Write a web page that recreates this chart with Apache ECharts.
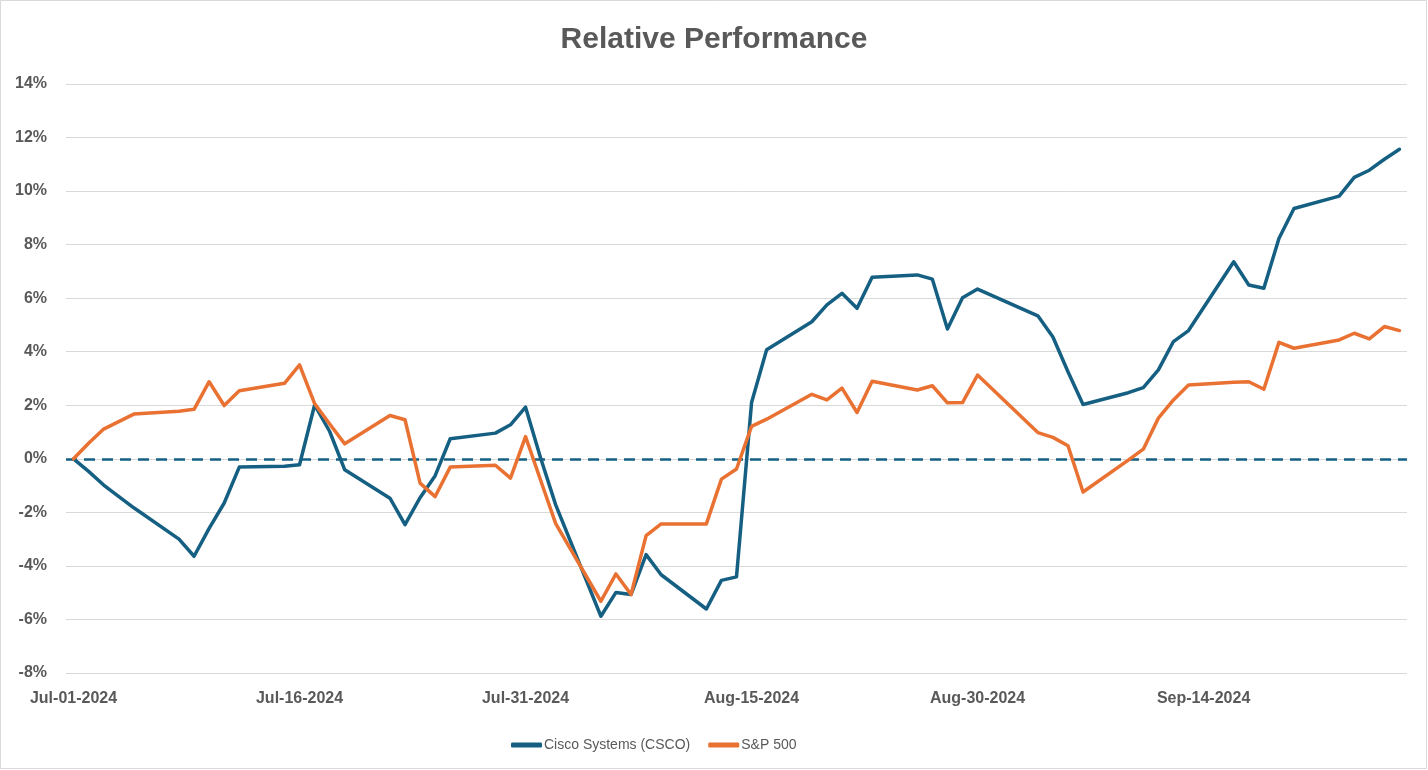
<!DOCTYPE html>
<html>
<head>
<meta charset="utf-8">
<script src="https://cdn.jsdelivr.net/npm/echarts@6/dist/echarts.min.js"></script>
<style>
  html, body { margin: 0; padding: 0; background: #fff; }
  #chart { width: 1428px; height: 770px; }
</style>
</head>
<body>
<div id="chart"></div>
<script>
// ---- data ----
const tradingDates = [
  '2024-07-01','2024-07-02','2024-07-03','2024-07-05','2024-07-08','2024-07-09','2024-07-10','2024-07-11','2024-07-12',
  '2024-07-15','2024-07-16','2024-07-17','2024-07-18','2024-07-19','2024-07-22','2024-07-23','2024-07-24','2024-07-25','2024-07-26',
  '2024-07-29','2024-07-30','2024-07-31','2024-08-01','2024-08-02','2024-08-05','2024-08-06','2024-08-07','2024-08-08','2024-08-09',
  '2024-08-12','2024-08-13','2024-08-14','2024-08-15','2024-08-16','2024-08-19','2024-08-20','2024-08-21','2024-08-22','2024-08-23',
  '2024-08-26','2024-08-27','2024-08-28','2024-08-29','2024-08-30','2024-09-03','2024-09-04','2024-09-05','2024-09-06',
  '2024-09-09','2024-09-10','2024-09-11','2024-09-12','2024-09-13','2024-09-16','2024-09-17','2024-09-18','2024-09-19','2024-09-20',
  '2024-09-23','2024-09-24','2024-09-25','2024-09-26','2024-09-27'
];
const cscoValues = [
  0, -0.47, -0.98, -1.83, -3.0, -3.64, -2.6, -1.65, -0.31,
  -0.28, -0.22, 2.01, 1.02, -0.41, -1.47, -2.46, -1.45, -0.63, 0.75,
  0.96, 1.27, 1.93, 0.03, -1.72, -5.88, -4.99, -5.07, -3.58, -4.33,
  -5.61, -4.54, -4.41, 2.10, 4.07, 5.12, 5.75, 6.18, 5.62, 6.78,
  6.87, 6.71, 4.85, 6.02, 6.34, 5.34, 4.55, 3.25, 2.03,
  2.47, 2.66, 3.32, 4.38, 4.79, 7.36, 6.49, 6.37, 8.23, 9.35,
  9.81, 10.51, 10.78, 11.19, 11.56
];
const spxValues = [
  0, 0.58, 1.11, 1.67, 1.78, 1.85, 2.88, 1.99, 2.54,
  2.82, 3.51, 2.06, 1.3, 0.56, 1.62, 1.46, -0.91, -1.41, -0.31,
  -0.24, -0.72, 0.83, -0.8, -2.42, -5.32, -4.30, -5.07, -2.87, -2.43,
  -2.43, -0.76, -0.38, 1.21, 1.48, 2.41, 2.20, 2.64, 1.73, 2.90,
  2.57, 2.73, 2.09, 2.10, 3.13, 0.98, 0.80, 0.49, -1.24,
  -0.05, 0.36, 1.52, 2.20, 2.76, 2.86, 2.88, 2.60, 4.35, 4.13,
  4.44, 4.69, 4.48, 4.94, 4.79
];
const seriesNames = ['Cisco Systems (CSCO)', 'S&P 500'];
const tickLabels = ['Jul-01-2024','Jul-16-2024','Jul-31-2024','Aug-15-2024','Aug-30-2024','Sep-14-2024'];
const yTicks = { min: -8, max: 14, step: 2 };

// ---- build calendar-day category axis (library needs every day) ----
const MONTHS = ['Jan','Feb','Mar','Apr','May','Jun','Jul','Aug','Sep','Oct','Nov','Dec'];
function fmt(d) {
  return MONTHS[d.getUTCMonth()] + '-' + String(d.getUTCDate()).padStart(2,'0') + '-' + d.getUTCFullYear();
}
const categories = [];
const isoDays = [];
{
  const start = new Date(tradingDates[0] + 'T00:00:00Z');
  const end = new Date(tradingDates[tradingDates.length - 1] + 'T00:00:00Z');
  for (let t = start.getTime(); t <= end.getTime(); t += 86400000) {
    const d = new Date(t);
    categories.push(fmt(d));
    isoDays.push(d.toISOString().slice(0,10));
  }
}
function align(values) {
  const m = {};
  tradingDates.forEach((d, i) => { m[d] = values[i]; });
  return isoDays.map(d => (d in m ? m[d] : null));
}

const TEXT = '#595959';
const FONT = "'Liberation Sans', Arial, sans-serif";
const BLUE = '#156082';
const ORANGE = '#E97132';

const chart = echarts.init(document.getElementById('chart'), null, { renderer: 'canvas' });
chart.setOption({
  backgroundColor: '#ffffff',
  animation: false,
  title: {
    text: 'Relative Performance',
    left: 'center',
    top: 20,
    textStyle: { color: TEXT, fontSize: 30, fontWeight: 'bold', fontFamily: FONT }
  },
  graphic: [{
    type: 'rect',
    shape: { x: 0.5, y: 0.5, width: 1426, height: 768 },
    style: { fill: 'none', stroke: '#d9d9d9', lineWidth: 1 },
    silent: true, z: -1
  }],
  legend: {
    data: seriesNames,
    left: 506,
    top: 733,
    icon: 'roundRect',
    itemWidth: 31,
    itemHeight: 5,
    itemGap: 18,
    textStyle: { color: TEXT, fontSize: 14, fontFamily: FONT, padding: [0, 0, 0, -3] }
  },
  grid: { left: 66, right: 21, top: 84, bottom: 97, containLabel: false },
  xAxis: {
    type: 'category',
    data: categories,
    boundaryGap: true,
    axisLine: { show: false },
    axisTick: { show: false },
    splitLine: { show: false },
    axisLabel: {
      interval: 14,
      margin: 18,
      color: TEXT,
      fontSize: 16,
      fontWeight: 'bold',
      fontFamily: FONT,
      formatter: v => (tickLabels.indexOf(v) >= 0 ? v : '')
    }
  },
  yAxis: {
    type: 'value',
    min: yTicks.min,
    max: yTicks.max,
    interval: yTicks.step,
    axisLine: { show: false },
    axisTick: { show: false },
    splitLine: { lineStyle: { color: '#d9d9d9', width: 1 } },
    axisLabel: {
      margin: 19,
      color: TEXT,
      fontSize: 16,
      fontWeight: 'bold',
      fontFamily: FONT,
      formatter: '{value}%'
    }
  },
  series: [
    {
      name: seriesNames[0],
      type: 'line',
      data: align(cscoValues),
      connectNulls: true,
      symbol: 'none',
      color: BLUE,
      lineStyle: { color: BLUE, width: 3.5, cap: 'round', join: 'round' },
      markLine: {
        silent: true,
        symbol: 'none',
        label: { show: false },
        lineStyle: { color: BLUE, width: 2.5, type: [11, 7] },
        data: [{ yAxis: 0 }],
        z: 1
      },
      z: 2
    },
    {
      name: seriesNames[1],
      type: 'line',
      data: align(spxValues),
      connectNulls: true,
      symbol: 'none',
      color: ORANGE,
      lineStyle: { color: ORANGE, width: 3.5, cap: 'round', join: 'round' },
      z: 3
    }
  ]
});
</script>
</body>
</html>
